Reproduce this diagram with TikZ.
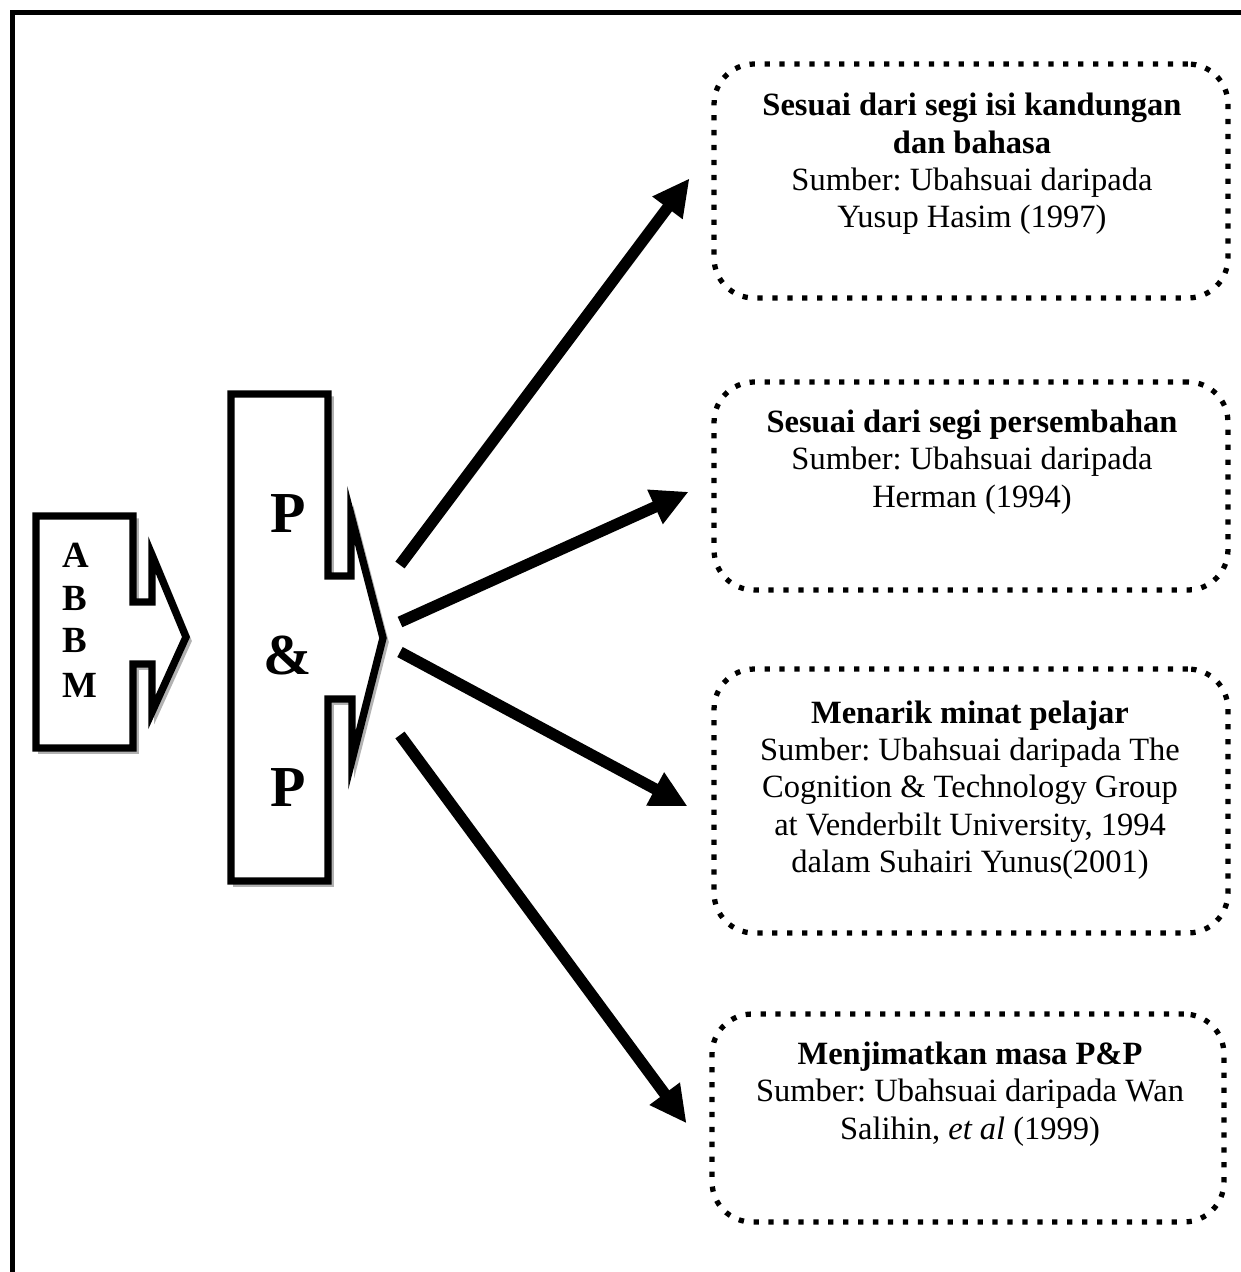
\documentclass[tikz,border=0pt]{standalone}
\usepackage{fontspec}
\setmainfont{Liberation Serif}
\usetikzlibrary{arrows.meta}

\begin{document}
\frenchspacing
\begin{tikzpicture}[x=.02cm,y=-.02cm,
 blok/.style={draw,line width=4.2pt,line join=miter,fill=white,
  preaction={draw=gray!60,line width=2pt,transform canvas={shift={(.08cm,-.08cm)}}}},
 kotak/.style={draw,line width=3pt,dash pattern=on 3pt off 5.5pt,
  rounded corners=.8cm,minimum width=10.28cm},
 teks/.style={align=center,font=\fontsize{18.5}{21.2}\selectfont},
 huruf/.style={anchor=west,inner sep=0pt,font=\bfseries\fontsize{21}{24}\selectfont},
 besar/.style={inner sep=0pt,font=\bfseries\fontsize{33}{36}\selectfont},
 anak/.style={line width=6.5pt,-{Triangle[length=21pt,width=20pt]}}]
 \useasboundingbox (0,0) rectangle (1241,1272);
 \clip (0,0) rectangle (1241,1272);
 \draw[line width=2.3pt] (12.5,12.5) rectangle (1300,1330);
 % ABBM
 \path[blok] (36,516)--(133,516)--(133,602)--(152,602)--(152,555)--(186,637)
  --(152,712)--(152,664)--(133,664)--(133,748)--(36,748)--cycle;
 \path
 (62,555) node[huruf] (a1) {A}
 ++(0,43) node[huruf] (a2) {B}
 ++(0,42) node[huruf] (a3) {B}
 ++(0,45) node[huruf] (a4) {M};
 % P&P
 \path[blok] (231,394)--(328,394)--(328,576)--(351,576)--(351,515)--(383,638)
  --(352,760)--(352,699)--(328,699)--(328,881)--(231,881)--cycle;
 \path
 (288,514) node[besar] (p1) {P}
 ++(0,141) node[besar] (p2) {\&}
 ++(0,133) node[besar] (p3) {P};
 % kotak
 \node[kotak,minimum height=4.68cm] (b1) at (971,181) {};
 \node[kotak,minimum height=4.16cm] (b2) at (971,486) {};
 \node[kotak,minimum height=5.28cm] (b3) at (971,801) {};
 \node[kotak,minimum height=4.16cm,minimum width=10.24cm] (b4) at (968,1118) {};
 \node[teks] (t1) at (972,164) {\textbf{Sesuai dari segi isi kandungan}\\
  \textbf{dan bahasa}\\Sumber: Ubahsuai daripada\\Yusup Hasim (1997)};
 \node[teks] (t2) at (972,462) {\textbf{Sesuai dari segi persembahan}\\
  Sumber: Ubahsuai daripada\\Herman (1994)};
 \node[teks] (t3) at (970,790) {\textbf{Menarik minat pelajar}\\
  Sumber: Ubahsuai daripada The\\Cognition \& Technology Group\\
  at Venderbilt University, 1994\\dalam Suhairi Yunus(2001)};
 \node[teks] (t4) at (970,1094) {\textbf{Menjimatkan masa P\&P}\\
  Sumber: Ubahsuai daripada Wan\\Salihin, \textit{et al} (1999)};
 % anak panah
 \coordinate (s1) at (400,565);
 \coordinate (s2) at (400,622);
 \coordinate (s3) at (400,652);
 \coordinate (s4) at (400,735);
 \begin{scope}[anak]
 \draw[shorten >=.73cm] (s1)--(b1.173);
 \draw[shorten >=.5cm] (s2)--(b2.179);
 \draw[shorten >=.54cm] (s3)--(b3.184);
 \draw[shorten >=.77cm] (s4)--(b4.188);
 \end{scope}
\end{tikzpicture}
\end{document}
